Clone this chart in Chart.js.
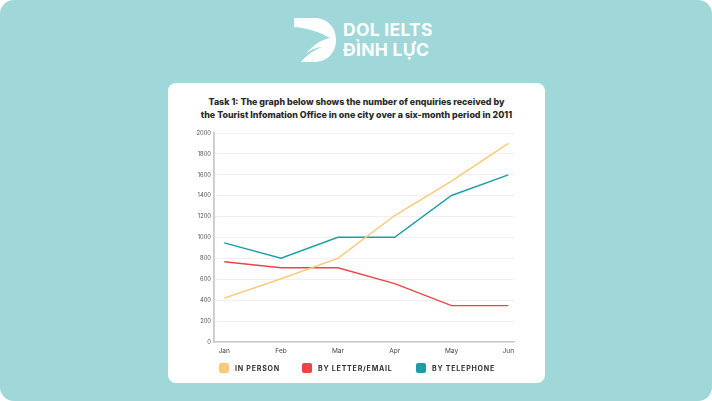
<!DOCTYPE html>
<html>
<head>
<meta charset="utf-8">
<script src="https://cdn.jsdelivr.net/npm/chart.js@4.4.1/dist/chart.umd.min.js"></script>
<style>
  html, body { margin: 0; padding: 0; background: #fff; }
  body { width: 712px; height: 401px; position: relative; overflow: hidden; font-family: Inter, "Noto Sans", sans-serif; }
  .bg { position: absolute; left: 0; top: 0; width: 712px; height: 401px; background: #a0d8da; border-radius: 14px; }
  .logo { position: absolute; left: 292px; top: 16px; }
  .brand { position: absolute; left: 343px; top: 20px; color: #fff; font-weight: 700; font-size: 17.5px; line-height: 20px; letter-spacing: 0.3px; }
  .card { position: absolute; left: 168px; top: 83px; width: 377px; height: 300px; background: #fff; border-radius: 8px; }
  .title { position: absolute; left: 168px; top: 95px; width: 377px; text-align: center; font-weight: 800; font-size: 8.9px; line-height: 13px; color: #2b2b2b; }
  .chartbox { position: absolute; left: 168px; top: 83px; width: 377px; height: 300px; }
  .legend { position: absolute; top: 363px; left: 168px; width: 377px; height: 14px; }
  .legend .item { position: absolute; top: 0; display: flex; align-items: center; font-size: 7.1px; font-weight: 700; letter-spacing: 0.75px; color: #333; }
  .legend .sw { width: 10px; height: 10px; border-radius: 2px; margin-right: 6px; }
</style>
</head>
<body>
<div class="bg"></div>
<svg class="logo" width="46" height="48" viewBox="0 0 46 48">
  <path d="M2 2 H22 C36 2 44 12 44 24 C44 37 35 46 22 46 H9 C14 40 20 35 30 31 C25 31 18 34 14 38 C20 30 28 24 38 22 C30 17 16 12 2 11 Z" fill="#fff"/>
</svg>
<div class="brand">DOL IELTS<br>ĐÌNH LỰC</div>
<div class="card"></div>
<div class="title">Task 1: The graph below shows the number of enquiries received by<br>the Tourist Infomation Office in one city over a six-month period in 2011</div>
<div class="chartbox"><canvas id="chart"></canvas></div>
<div class="legend" id="legend"></div>
<script>
// dữ liệu
const months = ['Jan', 'Feb', 'Mar', 'Apr', 'May', 'Jun'];
const inPerson = [420, 605, 800, 1210, 1540, 1900];
const byLetter = [768, 710, 710, 558, 348, 348];
const byPhone = [948, 802, 1002, 1002, 1402, 1600];
const seriesNames = ['IN PERSON', 'BY LETTER/EMAIL', 'BY TELEPHONE'];
const yTicks = [0, 200, 400, 600, 800, 1000, 1200, 1400, 1600, 1800, 2000];

const colors = ['#fcc87a', '#ef4444', '#1a9fa7'];
const seriesData = [inPerson, byLetter, byPhone];

const ctx = document.getElementById('chart').getContext('2d');
const chart = new Chart(ctx, {
    type: 'line',
    data: {
        datasets: seriesNames.map((name, i) => ({
            label: name,
            data: seriesData[i].map((v, j) => ({ x: j, y: v })),
            borderColor: colors[i],
            backgroundColor: colors[i],
            borderWidth: 1.4,
            pointRadius: 0,
            tension: 0,
            fill: false
        }))
    },
    options: {
        responsive: true,
        maintainAspectRatio: false,
        animation: false,
        layout: { padding: { left: 0, top: 50, right: 31, bottom: 21 } },
        plugins: { legend: { display: false }, tooltip: { enabled: false } },
        scales: {
            x: {
                type: 'linear',
                min: -0.18,
                max: 5.1,
                afterBuildTicks: (axis) => { axis.ticks = months.map((m, i) => ({ value: i })); },
                afterFit: (scale) => { scale.height = 20; },
                ticks: {
                    callback: (v) => months[v],
                    font: { size: 6.5, family: 'Inter' },
                    color: '#444',
                    padding: 5,
                    maxRotation: 0
                },
                grid: { display: false, drawTicks: false },
                border: { color: '#c8cad2', width: 1.5 }
            },
            y: {
                min: 0,
                max: 2000,
                afterBuildTicks: (axis) => { axis.ticks = yTicks.map(v => ({ value: v })); },
                afterFit: (scale) => { scale.width = 46; },
                ticks: {
                    callback: (v) => String(v),
                    font: { size: 5.8, family: 'Inter' },
                    color: '#555',
                    padding: 3
                },
                grid: { color: '#f0f0f2', lineWidth: 1, drawTicks: false },
                border: { color: '#c8cad2', width: 1.8 }
            }
        }
    }
});

// legend HTML
const legendX = [51, 134, 248];
const legendEl = document.getElementById('legend');
seriesNames.forEach((name, i) => {
    const item = document.createElement('div');
    item.className = 'item';
    item.style.left = legendX[i] + 'px';
    item.innerHTML = '<span class="sw" style="background:' + colors[i] + '"></span>' + name;
    legendEl.appendChild(item);
});
</script>
</body>
</html>
